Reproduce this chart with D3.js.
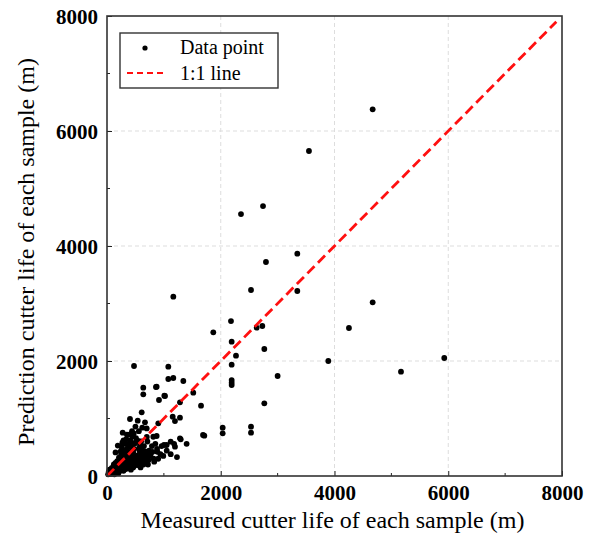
<!DOCTYPE html>
<html>
<head>
<meta charset="utf-8">
<script src="https://d3js.org/d3.v7.min.js"></script>
<style>
  body { margin: 0; background: #fff; }
  text { font-family: "Liberation Serif", "Times New Roman", serif; }
</style>
</head>
<body>
<div id="chart"></div>
<script>
// measured (x) vs predicted (y) cutter life, metres
const measured = [
  // scattered points
  4671, 3551, 3346, 3346, 4671, 4254, 3891, 5169, 5930, 3000,
  1166, 2532, 2180, 1869, 2631, 2731, 2192, 2766, 2268, 2192,
  1078, 1078, 1166, 1342, 861, 2192, 2192, 2192, 1517, 1020,
  914, 1283, 2766, 1653, 1155, 1283, 1195, 902, 2034, 2034,
  2532, 2532, 1711, 814, 873, 1296, 475, 404, 276, 610,
  540, 668, 638, 638, 873, 1008, 1283, 1195, 1049, 698,
  1120, 1002, 885, 1688, 1230, 1400, 2356, 2743, 2795,
  // dense cluster near the origin
  310, 140, 520, 260, 680, 90, 430, 770, 350, 220,
  600, 480, 170, 390, 820, 540, 290, 650, 110, 460,
  730, 250, 570, 380, 200, 880, 330, 620, 440, 160,
  710, 510, 270, 940, 410, 590, 60, 360, 790, 470,
  230, 660, 550, 300, 990, 420, 130, 740, 490, 340,
  610, 240, 850, 400, 560, 180, 690, 450, 320, 1050,
  530, 280, 640, 370, 760, 210, 500, 900, 430, 580,
  120, 350, 700, 460, 260, 620, 830, 390, 540, 190,
  1120, 480, 310, 670, 420, 580, 240, 960, 360, 510,
  720, 150, 440, 600, 330, 800, 470, 1180, 560, 290,
  20, 40, 70, 45, 100, 160, 85, 200, 30, 130,
  350, 270, 440, 500, 560, 620, 190, 150,
  280, 400, 520, 640, 330, 450, 570, 230, 370, 490,
  610, 300, 420, 540, 250, 660, 380, 180, 720, 460
];
const predicted = [
  6377, 5652, 3866, 3217, 3021, 2574, 2000, 1814, 2052, 1739,
  3118, 3235, 2695, 2498, 2579, 2609, 2336, 2209, 2092, 1936,
  1901, 1687, 1704, 1652, 1548, 1669, 1623, 1582, 1449, 1391,
  1322, 1281, 1264, 1223, 1031, 1014, 956, 916, 840, 742,
  857, 753, 701, 683, 696, 638, 1913, 991, 753, 1107,
  962, 934, 1421, 1536, 1553, 1397, 655, 510, 539, 828,
  597, 539, 420, 713, 330, 560, 4556, 4695, 3722,
  180, 120, 350, 310, 420, 60, 280, 390, 470, 150,
  240, 560, 200, 330, 300, 190, 90, 520, 70, 410,
  280, 380, 450, 230, 240, 470, 560, 340, 160, 180,
  600, 300, 210, 380, 620, 150, 40, 400, 520, 470,
  100, 260, 610, 250, 350, 500, 150, 440, 220, 640,
  480, 290, 560, 140, 370, 260, 330, 690, 130, 440,
  270, 450, 200, 540, 360, 320, 580, 300, 420, 520,
  200, 230, 680, 350, 500, 410, 250, 720, 280, 70,
  380, 180, 370, 430, 590, 240, 430, 520, 300, 660,
  200, 230, 500, 600, 420, 420, 740, 560, 480, 620,
  30, 50, 90, 110, 40, 60, 140, 50, 70, 30,
  720, 580, 780, 860, 780, 840, 530, 410,
  210, 250, 280, 380, 120, 190, 310, 90, 170, 340,
  260, 240, 110, 230, 180, 300, 330, 210, 360, 150
];
const xTicks = [0, 2000, 4000, 6000, 8000];
const yTicks = [0, 2000, 4000, 6000, 8000];
const minorTicks = [1000, 3000, 5000, 7000];
const lineEnds = [0, 7900];

const width = 591, height = 540;
const margin = { top: 16, right: 29, bottom: 64, left: 107 };
const w = width - margin.left - margin.right;
const h = height - margin.top - margin.bottom;

const svg = d3.select("#chart").append("svg")
  .attr("width", width)
  .attr("height", height);

const g = svg.append("g")
  .attr("transform", `translate(${margin.left},${margin.top})`);

const x = d3.scaleLinear().domain([0, 8000]).range([0, w]);
const y = d3.scaleLinear().domain([0, 8000]).range([h, 0]);

// grid
g.append("g").selectAll("line")
  .data(xTicks.slice(1, -1))
  .join("line")
  .attr("x1", d => x(d)).attr("x2", d => x(d))
  .attr("y1", 0).attr("y2", h)
  .attr("stroke", "#ddd").attr("stroke-dasharray", "4,3");
g.append("g").selectAll("line")
  .data(yTicks.slice(1, -1))
  .join("line")
  .attr("y1", d => y(d)).attr("y2", d => y(d))
  .attr("x1", 0).attr("x2", w)
  .attr("stroke", "#ddd").attr("stroke-dasharray", "4,3");

// points
const pts = measured.map((m, i) => ({ m: m, p: predicted[i] }));
g.append("g").selectAll("circle")
  .data(pts)
  .join("circle")
  .attr("cx", d => x(d.m))
  .attr("cy", d => y(d.p))
  .attr("r", 2.9)
  .attr("fill", "#000");

// 1:1 line
g.append("line")
  .attr("x1", x(lineEnds[0])).attr("y1", y(lineEnds[0]))
  .attr("x2", x(lineEnds[1])).attr("y2", y(lineEnds[1]))
  .attr("stroke", "#ff1010")
  .attr("stroke-width", 2.8)
  .attr("stroke-dasharray", "10,5");

// axes (ticks inward)
const xAxis = d3.axisBottom(x).tickValues(xTicks).tickSize(-5).tickPadding(9).tickFormat(d3.format("d"));
const yAxis = d3.axisLeft(y).tickValues(yTicks).tickSize(-5).tickPadding(9).tickFormat(d3.format("d"));

const gx = g.append("g").attr("transform", `translate(0,${h})`).call(xAxis);
const gy = g.append("g").call(yAxis);
[gx, gy].forEach(a => {
  a.attr("font-family", "'Liberation Serif', serif")
    .attr("font-size", 21)
    .attr("font-weight", "bold");
  a.select(".domain").remove();
  a.selectAll("line").attr("stroke", "#222");
  a.selectAll("text")
    .attr("fill", "#000")
    .attr("font-weight", "bold");
});
gy.selectAll("text").attr("dy", "0.36em");

// minor ticks
g.append("g").selectAll("line")
  .data(minorTicks)
  .join("line")
  .attr("x1", d => x(d)).attr("x2", d => x(d))
  .attr("y1", h).attr("y2", h - 3)
  .attr("stroke", "#222");
g.append("g").selectAll("line")
  .data(minorTicks)
  .join("line")
  .attr("y1", d => y(d)).attr("y2", d => y(d))
  .attr("x1", 0).attr("x2", 3)
  .attr("stroke", "#222");

// frame
g.append("rect")
  .attr("width", w).attr("height", h)
  .attr("fill", "none")
  .attr("stroke", "#333")
  .attr("stroke-width", 1.6);

// axis titles
svg.append("text")
  .attr("x", margin.left + w / 2 - 2)
  .attr("y", 528)
  .attr("text-anchor", "middle")
  .style("font-size", "24px")
  .attr("fill", "#000")
  .text("Measured cutter life of each sample (m)");

svg.append("text")
  .attr("transform", `translate(34,${margin.top + h / 2 + 6}) rotate(-90)`)
  .attr("text-anchor", "middle")
  .style("font-size", "24px")
  .attr("fill", "#000")
  .text("Prediction cutter life of each sample (m)");

// legend
const lg = svg.append("g").attr("transform", "translate(120,33)");
lg.append("rect")
  .attr("width", 158).attr("height", 55)
  .attr("fill", "#fff").attr("stroke", "#333").attr("stroke-width", 1.4);
lg.append("circle").attr("cx", 25).attr("cy", 15).attr("r", 2.6).attr("fill", "#000");
lg.append("text").attr("x", 60).attr("y", 21).style("font-size", "20px").attr("fill", "#000").text("Data point");
lg.append("line")
  .attr("x1", 7).attr("x2", 45).attr("y1", 40).attr("y2", 40)
  .attr("stroke", "#ff1010").attr("stroke-width", 2).attr("stroke-dasharray", "6,4");
lg.append("text").attr("x", 60).attr("y", 47).style("font-size", "20px").attr("fill", "#000").text("1:1 line");
</script>
</body>
</html>
